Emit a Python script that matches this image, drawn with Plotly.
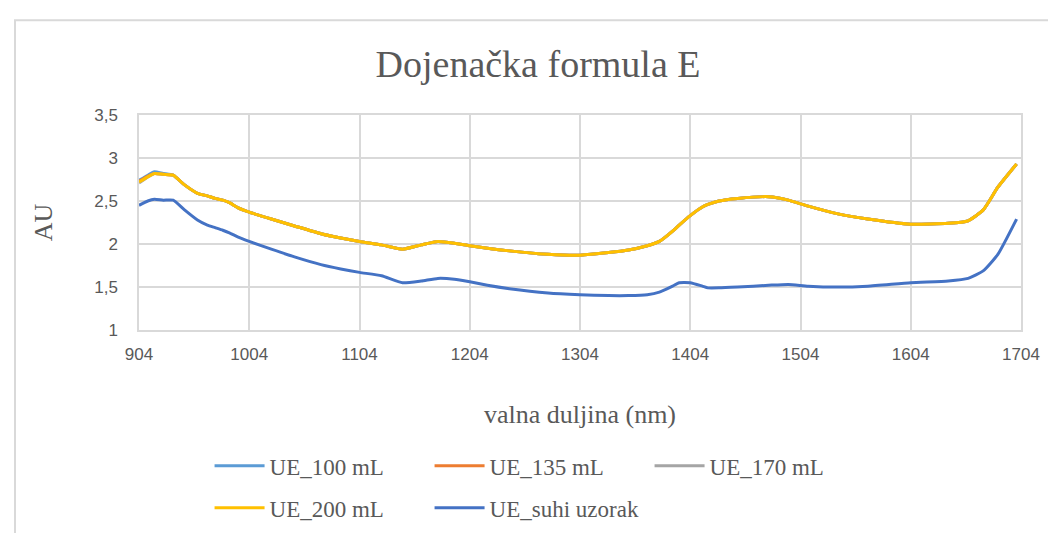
import plotly.graph_objects as go

# wavelength (nm)
wavelength = [904, 912, 918, 926, 935, 945, 957, 966, 973, 980, 986, 994, 1004, 1024, 1045,
              1069, 1087, 1104, 1124, 1143, 1160, 1175, 1190, 1204, 1220, 1240, 1275, 1304,
              1330, 1348, 1365, 1376, 1388, 1394, 1404, 1415, 1420, 1430, 1447, 1475, 1493,
              1511, 1538, 1565, 1604, 1638, 1656, 1670, 1683, 1700]

ue_100 = [2.74, 2.80, 2.84, 2.82, 2.80, 2.69, 2.59, 2.56, 2.53, 2.51, 2.48, 2.42, 2.37, 2.29, 2.21,
          2.12, 2.07, 2.03, 1.99, 1.94, 1.99, 2.03, 2.01, 1.98, 1.95, 1.92, 1.88, 1.87,
          1.90, 1.93, 1.98, 2.03, 2.15, 2.22, 2.33, 2.43, 2.46, 2.50, 2.53, 2.55, 2.51,
          2.44, 2.35, 2.29, 2.23, 2.24, 2.27, 2.40, 2.66, 2.93]
ue_135 = [2.73, 2.79, 2.82, 2.81, 2.80, 2.69, 2.59, 2.56, 2.53, 2.51, 2.48, 2.42, 2.37, 2.29, 2.21,
          2.12, 2.07, 2.03, 1.99, 1.94, 1.99, 2.03, 2.01, 1.98, 1.95, 1.92, 1.88, 1.87,
          1.90, 1.93, 1.98, 2.03, 2.15, 2.22, 2.33, 2.43, 2.46, 2.50, 2.53, 2.55, 2.51,
          2.44, 2.35, 2.29, 2.23, 2.24, 2.27, 2.40, 2.66, 2.93]
ue_170 = [2.71, 2.78, 2.82, 2.81, 2.80, 2.69, 2.59, 2.56, 2.53, 2.51, 2.48, 2.42, 2.37, 2.29, 2.21,
          2.12, 2.07, 2.03, 1.99, 1.94, 1.99, 2.03, 2.01, 1.98, 1.95, 1.92, 1.88, 1.87,
          1.90, 1.93, 1.98, 2.03, 2.15, 2.22, 2.33, 2.43, 2.46, 2.50, 2.53, 2.55, 2.51,
          2.44, 2.35, 2.29, 2.23, 2.24, 2.27, 2.40, 2.66, 2.93]
ue_200 = [2.72, 2.78, 2.82, 2.81, 2.80, 2.69, 2.59, 2.56, 2.53, 2.51, 2.48, 2.42, 2.37, 2.29, 2.21,
          2.12, 2.07, 2.03, 1.99, 1.94, 1.99, 2.03, 2.01, 1.98, 1.95, 1.92, 1.88, 1.87,
          1.90, 1.93, 1.98, 2.03, 2.15, 2.22, 2.33, 2.43, 2.46, 2.50, 2.53, 2.55, 2.51,
          2.44, 2.35, 2.29, 2.23, 2.24, 2.27, 2.40, 2.66, 2.93]
ue_suhi = [2.45, 2.50, 2.52, 2.51, 2.51, 2.40, 2.28, 2.22, 2.19, 2.16, 2.13, 2.08, 2.03, 1.94, 1.85,
           1.76, 1.71, 1.67, 1.63, 1.55, 1.57, 1.60, 1.59, 1.56, 1.52, 1.48, 1.43, 1.41,
           1.40, 1.40, 1.41, 1.44, 1.51, 1.55, 1.55, 1.51, 1.49, 1.49, 1.50, 1.52, 1.53,
           1.51, 1.50, 1.51, 1.55, 1.57, 1.60, 1.69, 1.88, 2.29]

# name, values, colour, legend row
series = [
    ("UE_100 mL", ue_100, "#5B9BD5", "legend"),
    ("UE_135 mL", ue_135, "#ED7D31", "legend"),
    ("UE_170 mL", ue_170, "#A5A5A5", "legend"),
    ("UE_200 mL", ue_200, "#FFC000", "legend2"),
    ("UE_suhi uzorak", ue_suhi, "#4472C4", "legend2"),
]

serif = "Liberation Serif, Times New Roman, serif"
sans = "Liberation Sans, Arial, sans-serif"
grey_text = "#595959"

fig = go.Figure()
for name, values, color, leg in series:
    fig.add_trace(go.Scatter(
        x=wavelength, y=values, name=name, mode="lines",
        line=dict(color=color, width=3, shape="spline", smoothing=0.5), legend=leg,
    ))

legend_style = dict(orientation="h", xanchor="left", yanchor="middle",
                    font=dict(family=serif, size=23, color=grey_text),
                    entrywidth=155, itemwidth=50, bgcolor="rgba(0,0,0,0)")

fig.update_layout(
    width=1056, height=533,
    margin=dict(l=131, r=43, t=107, b=206),
    paper_bgcolor="white", plot_bgcolor="white",
    separators=", ",
    title=dict(text="Dojenačka formula E", x=530 / 1056, xanchor="center",
               y=1 - 56 / 533, yanchor="middle",
               font=dict(family=serif, size=38, color=grey_text)),
    showlegend=True,
    legend=dict(x=0.08, y=-0.632, **legend_style),
    legend2=dict(x=0.08, y=-0.827, **legend_style),
)

fig.update_xaxes(
    range=[904, 1704], tick0=904, dtick=100, tickformat="d",
    showgrid=True, gridcolor="#d9d9d9", gridwidth=1.5,
    showline=True, linecolor="#d9d9d9", linewidth=1.5, mirror=True,
    ticks="", zeroline=False, ticklabelstandoff=8,
    tickfont=dict(family=sans, size=17, color=grey_text),
    title=dict(text="valna duljina (nm)", standoff=42,
               font=dict(family=serif, size=26, color=grey_text)),
)
fig.update_yaxes(
    range=[1, 3.5], dtick=0.5,
    showgrid=True, gridcolor="#d9d9d9", gridwidth=1.5,
    showline=True, linecolor="#d9d9d9", linewidth=1.5, mirror=True,
    ticks="", zeroline=False, ticklabelstandoff=16,
    tickfont=dict(family=sans, size=17, color=grey_text),
    title=dict(text="AU", standoff=34,
               font=dict(family=serif, size=26, color=grey_text)),
)

# outer chart border (partly cropped in the original)
fig.add_shape(type="rect", xref="paper", yref="paper",
              x0=(7 - 131) / 882, x1=1.2, y0=-1.2, y1=(327 - 10) / 220,
              line=dict(color="#d9d9d9", width=2), fillcolor="rgba(0,0,0,0)")

fig.write_html("out.html")
